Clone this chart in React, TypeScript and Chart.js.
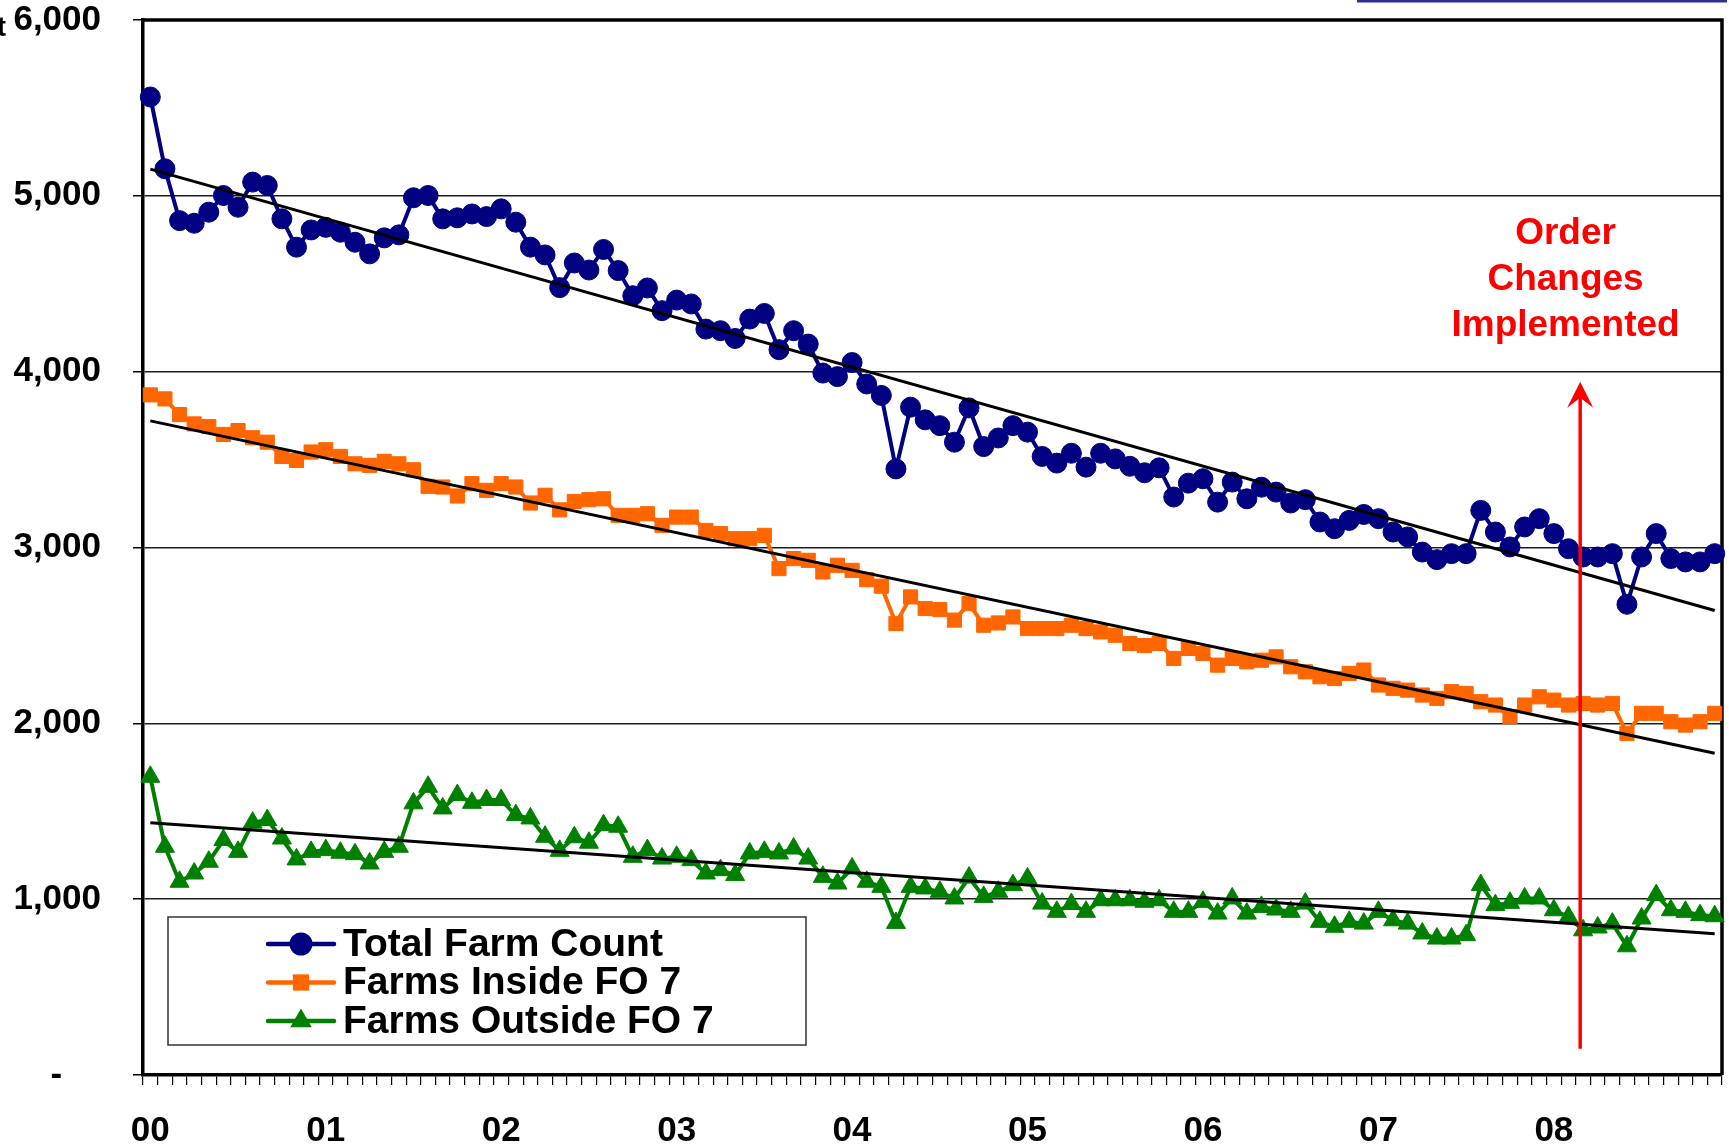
import React, { useEffect, useRef } from 'react';
import { Chart, registerables } from 'chart.js';

Chart.register(...registerables);

// ---------- data ----------
const years = ['00', '01', '02', '03', '04', '05', '06', '07', '08'];
const months = ['Jan', 'Feb', 'Mar', 'Apr', 'May', 'Jun', 'Jul', 'Aug', 'Sep', 'Oct', 'Nov', 'Dec'];
const categories = years.flatMap((y) => months.map((m) => `${m} ${y}`));

const totalFarmCount = [
  5562, 5154, 4859, 4844, 4907, 5002, 4935, 5078, 5059, 4869,
  4708, 4806, 4821, 4793, 4736, 4670, 4761, 4778, 4989, 5002,
  4869, 4875, 4897, 4882, 4926, 4850, 4708, 4664, 4478, 4618,
  4578, 4695, 4575, 4432, 4476, 4347, 4407, 4385, 4242, 4233,
  4189, 4299, 4331, 4125, 4233, 4157, 3992, 3972, 4052, 3930,
  3865, 3447, 3798, 3726, 3693, 3599, 3794, 3574, 3623, 3693,
  3656, 3518, 3480, 3536, 3457, 3536, 3504, 3462, 3425, 3453,
  3287, 3366, 3391, 3258, 3372, 3277, 3343, 3315, 3253, 3272,
  3145, 3107, 3154, 3188, 3164, 3088, 3060, 2974, 2931, 2965,
  2965, 3211, 3088, 3003, 3117, 3164, 3079, 2993, 2946, 2946,
  2965, 2677, 2946, 3079, 2937, 2918, 2918, 2965,
];

const farmsInsideFO7 = [
  3868, 3845, 3756, 3703, 3688, 3643, 3665, 3624, 3599, 3518,
  3495, 3543, 3556, 3518, 3476, 3467, 3490, 3476, 3442, 3348,
  3344, 3293, 3363, 3325, 3363, 3344, 3253, 3297, 3214, 3262,
  3272, 3277, 3183, 3183, 3192, 3126, 3173, 3173, 3097, 3079,
  3050, 3050, 3069, 2880, 2937, 2927, 2861, 2899, 2870, 2817,
  2780, 2568, 2719, 2653, 2647, 2587, 2681, 2558, 2571, 2605,
  2539, 2539, 2539, 2558, 2539, 2520, 2501, 2454, 2442, 2454,
  2369, 2426, 2397, 2331, 2369, 2350, 2359, 2378, 2322, 2293,
  2265, 2255, 2284, 2303, 2218, 2199, 2189, 2161, 2142, 2180,
  2170, 2123, 2104, 2038, 2104, 2151, 2132, 2104, 2113, 2104,
  2113, 1943, 2057, 2057, 2009, 1990, 2009, 2057,
];

const farmsOutsideFO7 = [
  1696, 1298, 1099, 1146, 1213, 1336, 1269, 1435, 1450, 1345,
  1226, 1269, 1279, 1264, 1256, 1203, 1269, 1298, 1545, 1639,
  1516, 1592, 1548, 1564, 1564, 1478, 1459, 1355, 1275, 1352,
  1321, 1421, 1412, 1241, 1279, 1231, 1241, 1222, 1146, 1165,
  1137, 1260, 1269, 1260, 1288, 1231, 1127, 1089, 1175, 1099,
  1070, 865, 1070, 1061, 1042, 1004, 1123, 1013, 1042, 1080,
  1118, 975, 928, 972, 928, 994, 994, 994, 985, 994,
  928, 928, 985, 918, 1004, 918, 956, 941, 928, 975,
  871, 843, 871, 861, 928, 880, 861, 805, 776, 776,
  795, 1080, 966, 979, 1004, 1004, 937, 899, 823, 839,
  861, 732, 890, 1023, 937, 928, 909, 903,
];

// linear trend lines (start value, end value) as drawn in the picture
const trendTotal = [5152, 2642];
const trendInside = [3720, 1830];
const trendOutside = [1435, 804];

const annotationLines = ['Order', 'Changes', 'Implemented'];
const annotationLineValues = [4787, 4531, 4268];
const annotationIndex = 96.8;
const arrowIndex = 97.8;
const arrowFrom = 150;
const arrowTo = 3943;

// ---------- styles ----------
const FONT = '"Liberation Sans", Arial, Helvetica, sans-serif';
const NAVY = '#000080';
const ORANGE = '#FF6600';
const GREEN = '#008000';
const RED = '#FF0000';

const seriesStyles = [
  { label: 'Total Farm Count', color: NAVY, style: 'circle', radius: 10 },
  { label: 'Farms Inside FO 7', color: ORANGE, style: 'rect', radius: 10 },
  { label: 'Farms Outside FO 7', color: GREEN, style: 'triangle', radius: 11 },
];

function drawMarker(ctx: CanvasRenderingContext2D, style: string, x: number, y: number, r: number, color: string) {
  ctx.fillStyle = color;
  ctx.beginPath();
  if (style === 'circle') {
    ctx.arc(x, y, r, 0, Math.PI * 2);
  } else if (style === 'rect') {
    const s = r * Math.SQRT1_2;
    ctx.rect(x - s, y - s, 2 * s, 2 * s);
  } else {
    ctx.moveTo(x, y - r);
    ctx.lineTo(x + r * 0.866, y + r * 0.5);
    ctx.lineTo(x - r * 0.866, y + r * 0.5);
    ctx.closePath();
  }
  ctx.fill();
}

const overlayPlugin = {
  id: 'overlay',
  beforeDatasetsDraw(chart: any) {
    const { ctx, chartArea: a } = chart;
    ctx.save();
    ctx.strokeStyle = '#000';
    ctx.lineWidth = 3.5;
    ctx.beginPath();
    ctx.moveTo(a.left, a.top);
    ctx.lineTo(a.right, a.top);
    ctx.lineTo(a.right, a.bottom);
    ctx.stroke();
    ctx.restore();
  },
  afterDraw(chart: any) {
    const { ctx, chartArea: a, scales } = chart;
    const xs = scales.x;
    const ys = scales.y;
    ctx.save();

    // legend box
    const bx = a.left + 25;
    const by = 917;
    const bw = 638;
    const bh = 128;
    ctx.fillStyle = '#fff';
    ctx.fillRect(bx, by, bw, bh);
    ctx.strokeStyle = '#333';
    ctx.lineWidth = 1.5;
    ctx.strokeRect(bx, by, bw, bh);
    const rowY = [944, 982.5, 1021];
    seriesStyles.forEach((s, i) => {
      const yy = rowY[i];
      ctx.strokeStyle = s.color;
      ctx.lineWidth = 4.5;
      ctx.lineCap = 'round';
      ctx.beginPath();
      ctx.moveTo(bx + 100, yy);
      ctx.lineTo(bx + 166, yy);
      ctx.stroke();
      drawMarker(ctx, s.style, bx + 133, yy, s.radius + 1.5, s.color);
      ctx.fillStyle = '#000';
      ctx.font = `bold 39px ${FONT}`;
      ctx.textAlign = 'left';
      ctx.textBaseline = 'middle';
      ctx.fillText(s.label, bx + 175, yy + 1);
    });

    // annotation text
    ctx.fillStyle = RED;
    ctx.font = `bold 37px ${FONT}`;
    ctx.textAlign = 'center';
    ctx.textBaseline = 'middle';
    const tx = xs.getPixelForValue(annotationIndex);
    annotationLines.forEach((t, i) => {
      ctx.fillText(t, tx, ys.getPixelForValue(annotationLineValues[i]) + 1);
    });

    // arrow
    const ax = xs.getPixelForValue(arrowIndex);
    const ay0 = ys.getPixelForValue(arrowFrom);
    const ay1 = ys.getPixelForValue(arrowTo);
    ctx.strokeStyle = RED;
    ctx.lineWidth = 3.5;
    ctx.lineCap = 'butt';
    ctx.beginPath();
    ctx.moveTo(ax, ay0);
    ctx.lineTo(ax, ay1 + 14);
    ctx.stroke();
    ctx.fillStyle = RED;
    ctx.beginPath();
    ctx.moveTo(ax, ay1);
    ctx.lineTo(ax + 13, ay1 + 26);
    ctx.lineTo(ax, ay1 + 16);
    ctx.lineTo(ax - 13, ay1 + 26);
    ctx.closePath();
    ctx.fill();

    // fragments at the edges of the slide crop
    ctx.fillStyle = '#2E3192';
    ctx.fillRect(1357, 0, 370, 2.5);
    ctx.fillStyle = '#000';
    ctx.font = `bold 27px ${FONT}`;
    ctx.textAlign = 'left';
    ctx.textBaseline = 'alphabetic';
    ctx.fillText('t', -3, 36);

    ctx.restore();
  },
};

export default function App() {
  const canvasRef = useRef<HTMLCanvasElement | null>(null);

  useEffect(() => {
    document.body.style.overflow = 'hidden';
    const canvas = canvasRef.current;
    if (!canvas) return;

    const trend = (vals: number[]) => [
      { x: categories[0], y: vals[0] },
      { x: categories[categories.length - 1], y: vals[1] },
    ];

    const series = [totalFarmCount, farmsInsideFO7, farmsOutsideFO7];

    const chart = new Chart(canvas, {
      type: 'line',
      data: {
        labels: categories,
        datasets: [
          ...[trendTotal, trendInside, trendOutside].map((t, i) => ({
            label: `trend ${i}`,
            data: trend(t) as any,
            borderColor: '#000',
            borderWidth: 3,
            pointRadius: 0,
            tension: 0,
            fill: false,
            order: 0,
            clip: false as any,
          })),
          ...seriesStyles.map((s, i) => ({
            label: s.label,
            data: series[i],
            borderColor: s.color,
            backgroundColor: s.color,
            borderWidth: 4,
            pointStyle: s.style as any,
            pointRadius: s.radius,
            pointBorderWidth: 1,
            pointBackgroundColor: s.color,
            pointBorderColor: s.color,
            tension: 0,
            fill: false,
            order: 1,
            clip: false as any,
          })),
        ],
      },
      options: {
        responsive: false,
        animation: false,
        events: [],
        layout: { autoPadding: false, padding: { top: 20, right: 7, bottom: 0, left: 0 } },
        plugins: {
          legend: { display: false },
          tooltip: { enabled: false },
        },
        scales: {
          x: {
            type: 'category',
            offset: true,
            afterFit: (s: any) => {
              s.height = 73;
              s.paddingLeft = 0;
              s.paddingRight = 0;
            },
            grid: {
              display: true,
              drawOnChartArea: false,
              drawTicks: true,
              tickLength: 10,
              offset: true,
              color: '#000',
              lineWidth: 1.2,
            },
            border: { display: true, color: '#000', width: 3.5 },
            ticks: {
              autoSkip: false,
              maxRotation: 0,
              minRotation: 0,
              padding: 0,
              color: '#000',
              font: { family: FONT, size: 35, weight: 'bold', lineHeight: '92px' },
              callback: (_v: any, index: number) => {
                const lab = categories[index];
                return lab.startsWith('Jan') ? lab.slice(4) : '';
              },
            },
          },
          y: {
            min: 0,
            max: 6000,
            afterFit: (s: any) => {
              s.width = 143;
              s.paddingTop = 0;
              s.paddingBottom = 0;
            },
            grid: {
              color: '#1f1f1f',
              lineWidth: 1.5,
              drawTicks: true,
              tickLength: 10,
              tickColor: '#000',
            },
            border: { display: true, color: '#000', width: 3.5 },
            ticks: {
              stepSize: 1000,
              padding: 32,
              color: '#000',
              font: { family: FONT, size: 35, weight: 'bold', lineHeight: 1 },
              callback: (v: any) => (Number(v) === 0 ? '-    ' : Number(v).toLocaleString('en-US')),
            },
          },
        },
      },
      plugins: [overlayPlugin],
    });

    return () => chart.destroy();
  }, []);

  return (
    <div style={{ position: 'absolute', left: 0, top: 0, width: 1729, height: 1148, background: '#fff' }}>
      <canvas ref={canvasRef} width={1729} height={1148} style={{ display: 'block', width: 1729, height: 1148 }} />
    </div>
  );
}
